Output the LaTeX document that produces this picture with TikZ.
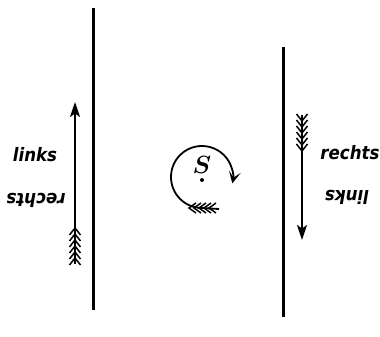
\documentclass[tikz,border=0pt]{standalone}
\usepackage{fontspec}
\newfontfamily\lab{DejaVu Sans Condensed}
\usetikzlibrary{arrows.meta}
\tikzset{
  wall/.style={line width=3pt},
  ray/.style={line width=1.8pt,-{Stealth[length=15pt,width=10pt,inset=3.5pt]}},
  feather/.style={line width=1.5pt},
  lbl/.style={font=\lab\bfseries\itshape\fontsize{18.5}{18.5}\selectfont,inner sep=0pt},
}
\begin{document}
\begin{tikzpicture}[x=1pt,y=1pt]
\useasboundingbox (0,0) rectangle (380,337);
% walls
\coordinate (wl1) at (93,329); \coordinate (wl2) at (93,27);
\coordinate (wr1) at (283,290); \coordinate (wr2) at (283,20);
\draw[wall] (wl1) -- (wl2);
\draw[wall] (wr1) -- (wr2);
% left arrow (upward)
\coordinate (la1) at (75,73); \coordinate (la2) at (75,235);
\draw[ray] (la1) -- (la2);
\foreach \y in {109,103,97,91,85,79}
  \draw[feather] (69.5,\y-7) -- (75,\y) -- (80.5,\y-7);
% right arrow (downward)
\coordinate (ra1) at (302,222); \coordinate (ra2) at (302,97);
\draw[ray] (ra1) -- (ra2);
\foreach \y in {216,210,204,198,192,186}
  \draw[feather] (296.5,\y+7) -- (302,\y) -- (307.5,\y+7);
% labels
\node[lbl] (linksL) at (35,182) {links};
\node[lbl,rotate=180] (rechtsL) at (36,137) {rechts};
\node[lbl] (rechtsR) at (350,184) {rechts};
\node[lbl,rotate=180] (linksR) at (347,140) {links};
% rotation
\coordinate (c) at (202,160);
\coordinate (ct) at (219,128);
\draw[line width=1.8pt,-{Stealth[length=12pt,width=12pt,inset=6pt]}] (ct) -- (202,129) arc[start angle=270,end angle=-12,radius=31];
\foreach \x in {189,194,199,204,209}
  \draw[feather] (\x+7,134) -- (\x,129) -- (\x+7,124);
\node[font=\boldmath\fontsize{24}{24}\selectfont,inner sep=0pt] (S) at (202,172) {$S$};
\fill (202,157) circle[radius=2];
\end{tikzpicture}
\end{document}
